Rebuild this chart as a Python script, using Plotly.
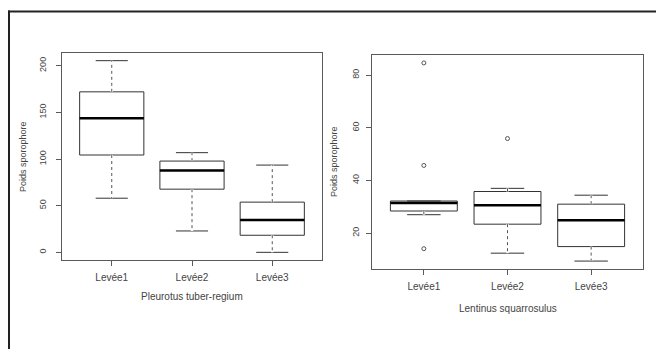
import plotly.graph_objects as go

# ---------------- data ----------------
categories = ["Levée1", "Levée2", "Levée3"]

pleurotus_low = [58.0, 22.9, 0.0]
pleurotus_q1 = [104.3, 67.7, 18.3]
pleurotus_median = [143.7, 87.8, 34.7]
pleurotus_q3 = [172.0, 97.8, 53.8]
pleurotus_high = [205.4, 106.8, 93.5]
pleurotus_outliers = [[], [], []]

lentinus_low = [27.0, 12.4, 9.4]
lentinus_q1 = [28.4, 23.4, 14.9]
lentinus_median = [31.4, 30.6, 24.9]
lentinus_q3 = [32.2, 35.8, 31.0]
lentinus_high = [32.2, 37.0, 34.4]
lentinus_outliers = [[84.6, 45.7, 14.1], [55.9], []]

left_yticks = [0, 50, 100, 150, 200]
right_yticks = [20, 40, 60, 80]

y_title = "Poids sporophore"
left_xtitle = "Pleurotus tuber-regium"
right_xtitle = "Lentinus squarrosulus"

# ---------------- style ----------------
OFF = 8  # browser body margin
W, H = 664 - OFF, 349 - OFF
BOX_W = 0.8
HALF = BOX_W / 2
BOX_COL = "#333333"
WHISK_COL = "#555555"
AXIS_COL = "#5a5a5a"
TXT_COL = "#444444"
FONT = "Liberation Sans, Arial, sans-serif"

fig = go.Figure()


def add_panel(xa, ya, low, q1, med, q3, high, outliers):
    pos = list(range(1, len(categories) + 1))
    fig.add_trace(go.Box(
        x=pos, q1=q1, median=med, q3=q3, lowerfence=low, upperfence=high,
        width=BOX_W, whiskerwidth=0.5, fillcolor="white",
        line=dict(color=BOX_COL, width=1), boxpoints=False,
        xaxis=xa, yaxis=ya, showlegend=False, hoverinfo="skip"))
    # whiskers: cover solid, then dashed
    wx, wy = [], []
    for p, l, a, b, h in zip(pos, low, q1, q3, high):
        if h > b:
            wx += [p, p, None]
            wy += [b, h, None]
        if l < a:
            wx += [p, p, None]
            wy += [a, l, None]
    fig.add_trace(go.Scatter(x=wx, y=wy, mode="lines", xaxis=xa, yaxis=ya,
                             line=dict(color="white", width=2.5),
                             showlegend=False, hoverinfo="skip"))
    fig.add_trace(go.Scatter(x=wx, y=wy, mode="lines", xaxis=xa, yaxis=ya,
                             line=dict(color=WHISK_COL, width=1, dash="3px,3px"),
                             showlegend=False, hoverinfo="skip"))
    # thick medians
    mx, my = [], []
    for p, m in zip(pos, med):
        mx += [p - HALF, p + HALF, None]
        my += [m, m, None]
    fig.add_trace(go.Scatter(x=mx, y=my, mode="lines", xaxis=xa, yaxis=ya,
                             line=dict(color="black", width=2.5),
                             showlegend=False, hoverinfo="skip"))
    # outliers
    ox, oy = [], []
    for p, outs in zip(pos, outliers):
        for v in outs:
            ox.append(p)
            oy.append(v)
    if ox:
        fig.add_trace(go.Scatter(x=ox, y=oy, mode="markers", xaxis=xa, yaxis=ya,
                                 marker=dict(symbol="circle-open", size=4,
                                             color=WHISK_COL, line=dict(width=1)),
                                 showlegend=False, hoverinfo="skip"))


add_panel("x", "y", pleurotus_low, pleurotus_q1, pleurotus_median,
          pleurotus_q3, pleurotus_high, pleurotus_outliers)
add_panel("x2", "y2", lentinus_low, lentinus_q1, lentinus_median,
          lentinus_q3, lentinus_high, lentinus_outliers)


def r_range(lo, hi):
    d = (hi - lo) * 0.04
    return [lo - d, hi + d]


all_left = pleurotus_low + pleurotus_high + sum(pleurotus_outliers, [])
all_right = lentinus_low + lentinus_high + sum(lentinus_outliers, [])


def px(x):
    return (x - OFF) / W


def py(y):
    return 1 - (y - OFF) / H


common_x = dict(tickvals=[1, 2, 3], ticktext=categories, range=r_range(0.5, 3.5),
                showline=True, mirror=True, linecolor=AXIS_COL, linewidth=1,
                ticks="outside", ticklen=5, tickcolor=AXIS_COL, showgrid=False,
                zeroline=False, tickfont=dict(size=10, color=TXT_COL, family=FONT),
                ticklabelstandoff=3)
common_y = dict(showline=True, mirror=True, linecolor=AXIS_COL, linewidth=1,
                ticks="outside", ticklen=5, tickcolor=AXIS_COL, showgrid=False,
                zeroline=False, tickangle=-90,
                tickfont=dict(size=9, color=TXT_COL, family=FONT))

ann = dict(xref="paper", yref="paper", showarrow=False,
           xanchor="center", yanchor="middle")

fig.update_layout(
    width=W, height=H, margin=dict(l=0, r=0, t=0, b=0),
    paper_bgcolor="white", plot_bgcolor="white",
    font=dict(family=FONT, color=TXT_COL, size=10),
    xaxis=dict(domain=[px(62), px(322)], anchor="y", **common_x),
    yaxis=dict(domain=[py(260), py(53)], anchor="x", tickvals=left_yticks,
               range=r_range(min(all_left), max(all_left)), ticklabelstandoff=6,
               **common_y),
    xaxis2=dict(domain=[px(372), px(643)], anchor="y2", **common_x),
    yaxis2=dict(domain=[py(269), py(55)], anchor="x2", tickvals=right_yticks,
                range=r_range(min(all_right), max(all_right)), ticklabelstandoff=3,
                **common_y),
    annotations=[
        dict(text=y_title, x=px(23), y=py(157), textangle=-90,
             font=dict(size=9, color=TXT_COL), **ann),
        dict(text=y_title, x=px(334), y=py(162), textangle=-90,
             font=dict(size=9, color=TXT_COL), **ann),
        dict(text=left_xtitle, x=px(192), y=py(296),
             font=dict(size=10, color=TXT_COL), **ann),
        dict(text=right_xtitle, x=px(508), y=py(308),
             font=dict(size=10, color=TXT_COL), **ann),
    ],
    shapes=[
        dict(type="line", xref="paper", yref="paper", x0=px(8), x1=1.05,
             y0=py(11.5), y1=py(11.5), line=dict(color="#222222", width=2)),
        dict(type="line", xref="paper", yref="paper", x0=px(9), x1=px(9),
             y0=py(10.5), y1=-0.05, line=dict(color="#222222", width=2)),
    ],
)

fig.write_html("out.html")
